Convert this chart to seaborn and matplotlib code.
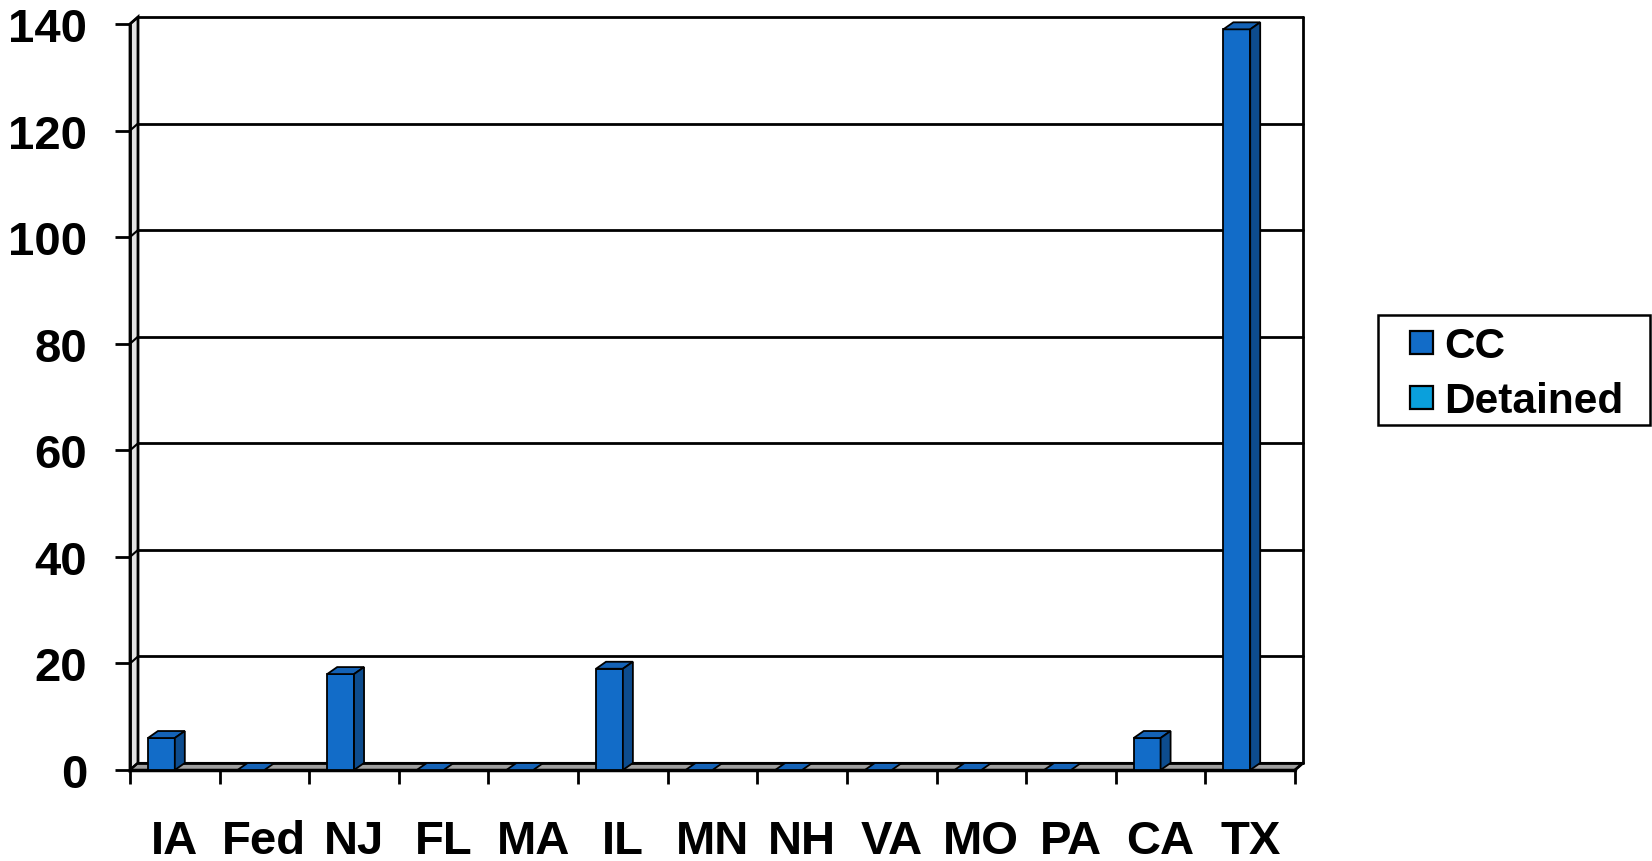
import matplotlib
matplotlib.use("Agg")
import matplotlib.pyplot as plt
from matplotlib.patches import Polygon, Rectangle
import numpy as np
import pandas as pd
import seaborn as sns

# ---- data ----
states = ["IA", "Fed", "NJ", "FL", "MA", "IL", "MN", "NH", "VA", "MO", "PA", "CA", "TX"]
cc_counts = [6, 0, 18, 0, 0, 19, 0, 0, 0, 0, 0, 6, 139]
detained_counts = [0, 0, 0, 0, 0, 0, 0, 0, 0, 0, 0, 0, 0]
series_names = ["CC", "Detained"]
y_ticks = [0, 20, 40, 60, 80, 100, 120, 140]

# ---- style ----
sns.set_theme(style="white")
plt.rcParams["font.family"] = ["Liberation Sans", "DejaVu Sans"]
plt.rcParams["font.weight"] = "bold"

cc_front = "#126cc8"
cc_side = "#0d4c8e"
cc_top = "#1462b6"
det_color = "#0aa0dc"
floor_color = "#a0a0a0"
wall_color = "#e2e2e2"

W, H = 1652, 862
fig = plt.figure(figsize=(W / 100, H / 100), dpi=100)
fig.patch.set_facecolor("white")

# front plane: x from 130 to 1295 px, y from 771 (zero) to 25 (140)
ax = fig.add_axes([130 / W, (H - 771) / H, (1295 - 130) / W, (771 - 25) / H])
ax.set_facecolor("none")

df = pd.DataFrame({
    "state": states * 2,
    "series": [series_names[0]] * len(states) + [series_names[1]] * len(states),
    "value": cc_counts + detained_counts,
})

sns.barplot(data=df, x="state", y="value", hue="series", order=states,
            hue_order=series_names, palette=[cc_front, det_color],
            width=0.6, saturation=1, edgecolor="black", linewidth=1.3,
            legend=False, ax=ax)

x0, x1 = -0.5, len(states) - 0.5
ymax = 140
ax.set_xlim(x0, x1)
ax.set_ylim(0, ymax)

# pixel -> data unit conversions for the depth effect
ux = (x1 - x0) / (1295 - 130)
uy = ymax / (771 - 25)
wall_dx, wall_dy = 8 * ux, 7 * uy
bar_dx, bar_dy = 10 * ux, 7 * uy

# left wall and floor
ax.add_patch(Polygon([(x0, 0), (x0, ymax), (x0 + wall_dx, ymax + wall_dy), (x0 + wall_dx, wall_dy)],
                     closed=True, facecolor=wall_color, edgecolor="black", lw=2,
                     clip_on=False, zorder=1))
ax.add_patch(Polygon([(x0, 0), (x1, 0), (x1 + wall_dx, wall_dy), (x0 + wall_dx, wall_dy)],
                     closed=True, facecolor=floor_color, edgecolor="black", lw=1.5,
                     clip_on=False, zorder=1))

# gridlines on the back wall, with connectors to the front axis
for yv in y_ticks:
    ax.plot([x0 + wall_dx, x1 + wall_dx], [yv + wall_dy, yv + wall_dy],
            color="black", lw=2, clip_on=False, zorder=1.5)
    ax.plot([x0, x0 + wall_dx], [yv, yv + wall_dy], color="black", lw=1.5,
            clip_on=False, zorder=1.5)
# right edge of back wall
ax.plot([x1 + wall_dx, x1 + wall_dx], [wall_dy, ymax + wall_dy], color="black", lw=2,
        clip_on=False, zorder=1.5)
# front axis lines
ax.plot([x0, x0], [0, ymax], color="black", lw=2, clip_on=False, zorder=2)
ax.plot([x0, x1], [0, 0], color="black", lw=2.5, clip_on=False, zorder=2)
ax.plot([x1, x1 + wall_dx], [0, wall_dy], color="black", lw=2, clip_on=False, zorder=2)

# give the bars a top and a side face
cc_bars = ax.containers[0]
for bar in cc_bars:
    bx = bar.get_x()
    bw = bar.get_width()
    bh = bar.get_height()
    bar.set_zorder(4)
    top = Polygon([(bx, bh), (bx + bw, bh), (bx + bw + bar_dx, bh + bar_dy), (bx + bar_dx, bh + bar_dy)],
                  closed=True, facecolor=cc_top, edgecolor="black", lw=1.3, zorder=4, clip_on=False)
    ax.add_patch(top)
    if bh > 0:
        side = Polygon([(bx + bw, 0), (bx + bw, bh), (bx + bw + bar_dx, bh + bar_dy), (bx + bw + bar_dx, bar_dy)],
                       closed=True, facecolor=cc_side, edgecolor="black", lw=1.3, zorder=4, clip_on=False)
        ax.add_patch(side)
for bar in ax.containers[1]:
    if bar.get_height() == 0:
        bar.set_visible(False)

for s in ax.spines.values():
    s.set_visible(False)

# ticks and labels
ax.set_yticks(y_ticks)
ax.set_yticklabels([str(v) for v in y_ticks])
ax.tick_params(axis="y", which="major", left=True, length=10.8, width=2, color="black",
               direction="out", pad=20, labelsize=34, labelcolor="black")
ax.set_xticks(range(len(states)))
ax.set_xticklabels(states)
ax.set_xticks(np.arange(x0, x1 + 0.01, 1.0), minor=True)
ax.tick_params(axis="x", which="major", bottom=True, length=0, pad=35, labelsize=34,
               labelcolor="black")
ax.tick_params(axis="x", which="minor", bottom=True, length=10, width=2, color="black",
               direction="out")
for lab in ax.get_xticklabels() + ax.get_yticklabels():
    lab.set_fontweight("bold")
ax.set_xlabel("")
ax.set_ylabel("")
ax.grid(False)

# legend box drawn in figure pixel coordinates
def fx(px):
    return px / W


def fy(py):
    return 1 - py / H


fig.add_artist(Rectangle((fx(1378), fy(426)), fx(1650) - fx(1378), fy(316) - fy(426),
                         transform=fig.transFigure, facecolor="white", edgecolor="black",
                         lw=1.8, zorder=10))
legend_colors = [cc_front, det_color]
row_centers = [343, 398]
for name, col, cy in zip(series_names, legend_colors, row_centers):
    fig.add_artist(Rectangle((fx(1410), fy(cy + 11.5)), fx(1433) - fx(1410), fy(cy - 11.5) - fy(cy + 11.5),
                             transform=fig.transFigure, facecolor=col, edgecolor="black",
                             lw=1.6, zorder=11))
    fig.text(fx(1444), fy(cy), name, ha="left", va="center_baseline", fontsize=30.5,
             fontweight="bold", color="black", zorder=12)

fig.savefig("out.png", dpi=100, facecolor="white")
